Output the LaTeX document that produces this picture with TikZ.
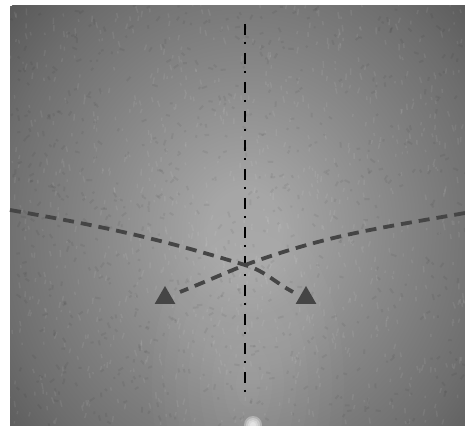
\documentclass[tikz,border=0pt]{standalone}
\usepackage{xcolor}
\usepackage{tikz}
\usetikzlibrary{shapes.geometric}

\definecolor{bglight}{gray}{0.65}
\definecolor{bgmid}{gray}{0.53}
\definecolor{bgouter}{gray}{0.43}
\definecolor{bgdark}{gray}{0.35}
\definecolor{markgray}{gray}{0.27}

\pgfdeclareradialshading{groundglow}{\pgfpoint{0bp}{0bp}}{%
  color(0bp)=(bglight); color(3bp)=(bglight); color(12bp)=(bgmid);
  color(20bp)=(bgouter); color(25bp)=(bgdark); color(50bp)=(bgdark)}

\begin{document}
\begin{tikzpicture}[
  x=1pt, y=1pt,
  pathline/.style={draw=markgray, line width=3.8pt, dash pattern=on 11pt off 7pt},
  axisline/.style={draw=black, line width=2pt, dash pattern=on 11pt off 7pt on 2pt off 9pt},
  marker/.style={regular polygon, regular polygon sides=3, fill=markgray,
    minimum size=24pt, inner sep=0pt}
]
\useasboundingbox[fill=white] (0,0) rectangle (465,425);

% photo background
\begin{scope}
\clip (10,0) rectangle (465,419);
\fill[bgdark] (10,0) rectangle (465,419);
\shade[shading=groundglow] (245,195) ellipse (310 and 340);
\foreach \s in {1,...,8}
  \fill[white, opacity=0.02] (248,40) ellipse ({12*\s} and {22*\s});
\pgfmathsetseed{11}
\foreach \i in {1,...,900}{
  \pgfmathsetmacro\px{10+455*rnd}
  \pgfmathsetmacro\py{419*rnd}
  \pgfmathsetmacro\ang{70+40*rnd}
  \pgfmathsetmacro\len{2+5*rnd}
  \draw[white, opacity=0.07, line width=1.5pt] (\px,\py) -- ++(\ang:\len);
}
\foreach \i in {1,...,700}{
  \pgfmathsetmacro\px{10+455*rnd}
  \pgfmathsetmacro\py{419*rnd}
  \pgfmathsetmacro\ang{360*rnd}
  \pgfmathsetmacro\len{2+4*rnd}
  \draw[black, opacity=0.06, line width=2pt] (\px,\py) -- ++(\ang:\len);
}
% bright spot at the lower edge
\foreach \r in {3,5,7,9}
  \fill[white, opacity=0.3] (253,0) circle (\r);
\end{scope}

% axis
\coordinate (top) at (245,401);
\coordinate (bot) at (245,25);
\draw[axisline] (top) -- (bot);

% markers
\node[marker] (ml) at (165,127) {};
\node[marker] (mr) at (306,127) {};

% paths
\coordinate (x) at (245,160);
\coordinate (lft) at (10,215);
\coordinate (rgt) at (465,212);
\coordinate (el) at (180,133);
\coordinate (er) at (293,133);
\draw[pathline] (lft) to[out=-10, in=163] (x) to[out=-17, in=152] (er);
\draw[pathline] (rgt) to[out=190, in=20] (x) to[out=202, in=22] (el);
\end{tikzpicture}
\end{document}
